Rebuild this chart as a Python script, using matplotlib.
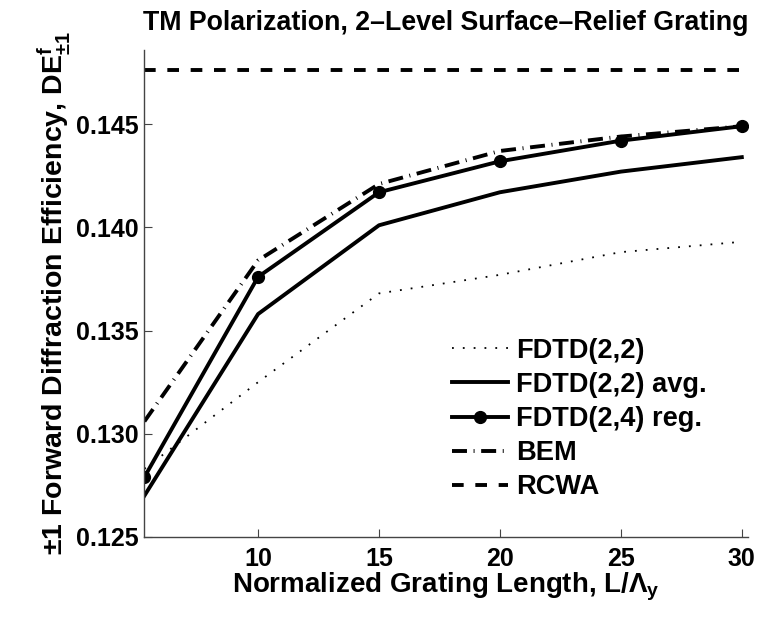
import matplotlib
matplotlib.use("Agg")
import matplotlib.pyplot as plt

# grating length L / Lambda_y
x = [5.3, 10, 15, 20, 25, 30]

# +-1 forward diffraction efficiency
fdtd22 = [0.1283, 0.1325, 0.1368, 0.1377, 0.1388, 0.1393]
fdtd22_avg = [0.1270, 0.1358, 0.1401, 0.1417, 0.1427, 0.1434]
fdtd24_reg = [0.1279, 0.1376, 0.1417, 0.1432, 0.1442, 0.1449]
bem = [0.1306, 0.1384, 0.1421, 0.1437, 0.1444, 0.1449]
rcwa = [0.14762] * len(x)

labels = ["FDTD(2,2)", "FDTD(2,2) avg.", "FDTD(2,4) reg.", "BEM", "RCWA"]
xticks = [10, 15, 20, 25, 30]
yticks = [0.125, 0.130, 0.135, 0.140, 0.145]

plt.rcParams['font.family'] = ['Liberation Sans', 'DejaVu Sans']
plt.rcParams['font.weight'] = 'bold'
plt.rcParams['mathtext.fontset'] = 'custom'
plt.rcParams['mathtext.rm'] = 'Liberation Sans:bold'
plt.rcParams['mathtext.bf'] = 'Liberation Sans:bold'
plt.rcParams['mathtext.it'] = 'Liberation Sans:bold'
plt.rcParams['mathtext.default'] = 'bf'

fig = plt.figure(figsize=(7.6, 6.19), dpi=100)
ax = fig.add_axes([0.19, 0.1325, 0.794, 0.787])

lw = 2.8
ax.plot(x, fdtd22, color='k', lw=1.3, linestyle=(0, (1, 5)), label=labels[0])
ax.plot(x, fdtd22_avg, color='k', lw=lw, label=labels[1])
ax.plot(x, fdtd24_reg, color='k', lw=lw, marker='o', markersize=8.5, label=labels[2])
ax.plot(x, bem, color='k', lw=lw, linestyle=(0, (3.85, 1.7, 0.25, 1.7)), label=labels[3])
ax.plot(x, rcwa, color='k', lw=lw, linestyle=(0, (3.0, 3.0)), label=labels[4])

ax.set_xlim(5.3, 30.25)
ax.set_ylim(0.125, 0.1486)
ax.set_xticks(xticks)
ax.set_yticks(yticks)
ax.set_yticklabels(["%.3f" % v for v in yticks])
ax.tick_params(direction='in', length=6, width=0.8, labelsize=18, color='#444444')
ax.tick_params(axis='y', pad=4)
ax.tick_params(axis='x', pad=7)
for lab in ax.get_xticklabels() + ax.get_yticklabels():
    lab.set_fontweight('bold')

ax.spines['top'].set_visible(False)
ax.spines['right'].set_visible(False)
for side in ['left', 'bottom']:
    ax.spines[side].set_color('#444444')
    ax.spines[side].set_linewidth(1.0)

ax.set_xlabel(r"Normalized Grating Length, L/$\Lambda_y$", fontsize=20, fontweight='bold', labelpad=0)
ax.set_ylabel(r"$\pm$1 Forward Diffraction Efficiency, DE$^f_{\pm1}$", fontsize=20.5, fontweight='bold', labelpad=2)
ax.set_title("TM Polarization, 2\u2013Level Surface\u2013Relief Grating", fontsize=19.3, fontweight='bold', pad=14)

ax.legend(loc='lower left', bbox_to_anchor=(0.51, 0.075), frameon=False, fontsize=19.6,
          handlelength=2.06, handletextpad=0.3, labelspacing=0.3, borderaxespad=0,
          borderpad=0)

fig.savefig("out.png", dpi=100)
